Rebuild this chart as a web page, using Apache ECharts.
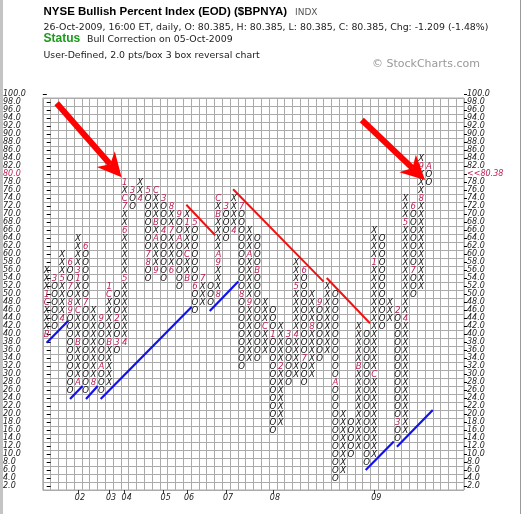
<!DOCTYPE html>
<html><head><meta charset="utf-8">
<script src="https://cdn.jsdelivr.net/npm/echarts@6/dist/echarts.min.js"></script>
<style>html,body{margin:0;padding:0;background:#fff}#c{width:526px;height:514px}</style>
</head><body><div id="c"></div>
<script>
// ---- chart data ----
const NCOLS = 54;          // columns on the grid
const BOX = 2;             // 2.0 pts per box
const colType = ['X','O','X','O','X','O','X','O','X','O','X','O','X','O','X','O','X','O','X','O','X','O','X','O','X','O','X','O','X','O','X','O','X','O','X','O','X','O','X','O','X','O','X','O','X','O','X','O','X','O'];
const colLow  = [40,42,44,26,28,26,28,26,28,36,38,72,74,54,56,54,56,52,54,46,48,48,50,64,66,32,34,34,36,16,18,28,30,28,30,34,36,4,6,10,12,8,10,42,44,14,16,50,52,78];
const colHigh = [56,54,60,58,64,62,46,44,52,50,78,76,78,76,76,74,72,70,70,68,54,52,74,72,74,72,66,64,48,46,42,40,58,56,50,48,52,50,20,18,42,40,66,64,48,46,74,72,84,82];
// month markers: [column, value, char]
const monthMarks = [
 [0,40,'B'],[0,48,'C'],[0,50,'1'],[1,54,'3'],[2,44,'4'],[2,54,'5'],
 [3,58,'6'],[3,52,'7'],[3,48,'8'],[3,46,'9'],
 [4,28,'A'],[4,38,'B'],[4,46,'C'],[4,54,'1'],[4,56,'3'],
 [5,62,'6'],[5,48,'7'],[6,28,'8'],[7,44,'9'],[7,32,'A'],
 [8,38,'B'],[8,50,'C'],[8,52,'1'],[9,44,'2'],[9,38,'3'],
 [10,38,'4'],[10,54,'5'],[10,66,'6'],[10,72,'7'],[10,74,'C'],[10,78,'1'],
 [11,76,'3'],[12,74,'4'],[13,76,'5'],[13,60,'7'],[13,58,'8'],
 [14,56,'9'],[14,64,'A'],[14,68,'B'],[14,76,'C'],[15,74,'3'],[15,66,'4'],
 [16,56,'6'],[16,66,'7'],[16,72,'8'],[17,70,'9'],[17,64,'A'],
 [18,54,'B'],[18,60,'C'],[18,68,'1'],[19,68,'5'],[19,52,'6'],[20,54,'7'],
 [22,50,'8'],[22,58,'9'],[22,60,'A'],[22,70,'B'],[22,74,'C'],
 [23,72,'3'],[24,66,'4'],[25,72,'7'],[25,50,'8'],[26,48,'9'],[26,60,'A'],
 [27,56,'B'],[28,42,'C'],[29,40,'1'],[30,32,'2'],[31,40,'3'],
 [32,40,'4'],[32,52,'5'],[33,56,'6'],[33,34,'7'],[34,42,'8'],[35,48,'9'],
 [37,28,'A'],[40,32,'B'],[42,30,'C'],[42,58,'1'],[45,46,'2'],[45,18,'3'],
 [46,44,'4'],[46,68,'5'],[47,72,'6'],[47,56,'7'],[48,74,'8'],[48,82,'9'],[49,82,'A']
];
const yearCols   = [4,8,10,15,18,23,29,42];
const yearLabels = ['02','03','04','05','06','07','08','09'];
const yTickLabels = ['2.0','4.0','6.0','8.0','10.0','12.0','14.0','16.0','18.0','20.0','22.0','24.0','26.0','28.0','30.0','32.0','34.0','36.0','38.0','40.0','42.0','44.0','46.0','48.0','50.0','52.0','54.0','56.0','58.0','60.0','62.0','64.0','66.0','68.0','70.0','72.0','74.0','76.0','78.0','80.0','82.0','84.0','86.0','88.0','90.0','92.0','94.0','96.0','98.0','100.0'];
const lastLabelRow = '80.0';
const lastValue = '80.38';
// trend lines: [col1, val1, col2, val2]
const redLines  = [[17.9,72.3,21.6,64.7],[23.9,76.2,35.5,53.1],[35.9,54.0,41.45,42.7]];
const blueLines = [[0.0,37.8,2.77,43.3],[2.99,23.75,4.6,27.0],[5.04,23.75,6.54,27.0],[6.92,23.75,18.6,46.8],[20.9,45.75,24.56,53.1],[40.9,6.0,44.5,13.1],[44.9,11.8,49.5,21.0]];
// arrows: [startCol, startVal, tipCol, tipVal]
const arrows = [[1.28,97.7,9.6,79.2],[40.4,93.5,48.5,78.5]];

// ---- derived ----
const cells = [];
for (let c = 0; c < colType.length; c++) {
  for (let v = colLow[c]; v <= colHigh[c]; v += BOX) {
    const m = monthMarks.find(mm => mm[0] === c && mm[1] === v);
    cells.push({c: c, v: v, ch: m ? m[2] : colType[c], mark: !!m});
  }
}
const xCats = [];
for (let i = 0; i < NCOLS; i++) {
  const k = yearCols.indexOf(i);
  xCats.push(k >= 0 ? yearLabels[k] : '');
}
const mainRows = yTickLabels.slice(0, -1);
const topRow = yTickLabels.slice(-1);

const MARK = '#bb2255', INK = '#111', GRID = '#ababab', LAB = '#222';
const CELLFONT = '"DejaVu Sans Condensed","DejaVu Sans",sans-serif';
const labFont = {fontFamily: '"DejaVu Sans",sans-serif', fontStyle: 'italic', fontSize: 8};

const chart = echarts.init(document.getElementById('c'));
const G = {left: 42.8, right: 62};
chart.setOption({
  animation: false,
  grid: [
    {left: G.left, right: G.right, top: 98, bottom: 24, show: true, borderColor: GRID, borderWidth: 1},
    {left: G.left, right: G.right, top: 90, height: 8, show: false}
  ],
  xAxis: [
    {type: 'category', gridIndex: 0, data: xCats, boundaryGap: true,
     axisLine: {show: false},
     axisTick: {show: true, alignWithLabel: true, length: 4, interval: (i) => yearCols.indexOf(i) >= 0, lineStyle: {color: '#333'}},
     axisLabel: Object.assign({interval: 0, margin: 4, color: LAB, padding: [0,0,0,4]}, labFont),
     splitLine: {show: true, interval: 0, lineStyle: {color: GRID, width: 1}}},
    {type: 'value', gridIndex: 0, min: -0.5, max: NCOLS - 0.5, show: false},
    {type: 'value', gridIndex: 1, min: 0, max: 1, show: false}
  ],
  yAxis: [
    {type: 'category', gridIndex: 0, position: 'left', data: mainRows, boundaryGap: true,
     axisLine: {show: false},
     axisTick: {show: true, inside: true, alignWithLabel: true, length: 4, interval: 0, lineStyle: {color: '#000'}},
     axisLabel: Object.assign({interval: 0, align: 'left', margin: 39.8, color: (v) => v === lastLabelRow ? MARK : LAB}, labFont),
     splitLine: {show: true, interval: 0, lineStyle: {color: GRID, width: 1}}},
    {type: 'category', gridIndex: 0, position: 'right', data: mainRows, boundaryGap: true,
     axisLine: {show: false},
     axisTick: {show: true, inside: false, alignWithLabel: true, length: 3, interval: 0, lineStyle: {color: '#000'}},
     axisLabel: Object.assign({interval: 0, margin: 3, formatter: (v) => v === lastLabelRow ? '<<' + lastValue : v,
       color: (v) => v === lastLabelRow ? MARK : LAB}, labFont),
     splitLine: {show: false}},
    {type: 'value', gridIndex: 0, min: 1, max: 99, show: false},
    {type: 'category', gridIndex: 1, position: 'left', data: topRow, boundaryGap: true,
     axisLine: {show: false},
     axisTick: {show: true, inside: true, alignWithLabel: true, length: 4, lineStyle: {color: '#000'}},
     axisLabel: Object.assign({interval: 0, align: 'left', margin: 39.8, color: LAB}, labFont),
     splitLine: {show: false}},
    {type: 'category', gridIndex: 1, position: 'right', data: topRow, boundaryGap: true,
     axisLine: {show: false},
     axisTick: {show: true, alignWithLabel: true, length: 3, lineStyle: {color: '#000'}},
     axisLabel: Object.assign({interval: 0, margin: 3, color: LAB}, labFont),
     splitLine: {show: false}}
  ],
  graphic: [
    {type: 'rect', shape: {x: 0, y: 0, width: 3, height: 514}, style: {fill: '#c4c4c4'}, silent: true},
    {type: 'rect', shape: {x: 520, y: 0, width: 1, height: 514}, style: {fill: '#9a9a9a'}, silent: true},
    {type: 'text', x: 43.5, y: 12, style: {text: 'NYSE Bullish Percent Index (EOD) ($BPNYA)', fill: '#000', font: 'bold 11.5px "Liberation Sans",Arial,sans-serif', textVerticalAlign: 'middle', verticalAlign: 'middle'}},
    {type: 'text', x: 295, y: 12.5, style: {text: 'INDX', fill: '#555', font: '9px "DejaVu Sans",sans-serif', textVerticalAlign: 'middle', verticalAlign: 'middle'}},
    {type: 'text', x: 43.5, y: 27.5, style: {text: '26-Oct-2009, 16:00 ET, daily, O: 80.385, H: 80.385, L: 80.385, C: 80.385, Chg: -1.209 (-1.48%)', fill: '#222', font: '9.4px "DejaVu Sans",sans-serif', textVerticalAlign: 'middle', verticalAlign: 'middle'}},
    {type: 'text', x: 43.5, y: 39, style: {text: 'Status', fill: '#1a9a1a', font: 'bold 12px "Liberation Sans",Arial,sans-serif', textVerticalAlign: 'middle', verticalAlign: 'middle'}},
    {type: 'text', x: 87, y: 39.5, style: {text: 'Bull Correction on 05-Oct-2009', fill: '#222', font: '9.4px "DejaVu Sans",sans-serif', textVerticalAlign: 'middle', verticalAlign: 'middle'}},
    {type: 'text', x: 43.5, y: 56, style: {text: 'User-Defined, 2.0 pts/box 3 box reversal chart', fill: '#222', font: '9.4px "DejaVu Sans",sans-serif', textVerticalAlign: 'middle', verticalAlign: 'middle'}},
    {type: 'text', x: 372, y: 64.5, style: {text: '\u00a9 StockCharts.com', fill: '#999', font: '11px "DejaVu Sans",sans-serif', textVerticalAlign: 'middle', verticalAlign: 'middle'}}
  ],
  series: [
    {type: 'custom', name: 'boxes', xAxisIndex: 1, yAxisIndex: 2, z: 3, clip: false,
     data: cells.map(o => [o.c, o.v]),
     renderItem: function (params, api) {
       const o = cells[params.dataIndex];
       const p = api.coord([api.value(0), api.value(1)]);
       return {type: 'text', x: p[0], y: p[1] + 0.5,
         style: {text: o.ch, fill: o.mark ? MARK : INK, fontSize: 9.5, fontStyle: 'italic',
           fontFamily: CELLFONT, align: 'center', verticalAlign: 'middle', textAlign: 'center', textVerticalAlign: 'middle'}};
     }},
    {type: 'custom', name: 'red', xAxisIndex: 1, yAxisIndex: 2, z: 4, clip: false,
     data: redLines,
     renderItem: function (params, api) {
       const a = api.coord([api.value(0), api.value(1)]), b = api.coord([api.value(2), api.value(3)]);
       return {type: 'line', shape: {x1: a[0], y1: a[1], x2: b[0], y2: b[1]}, style: {stroke: '#f21010', lineWidth: 2}};
     }},
    {type: 'custom', name: 'blue', xAxisIndex: 1, yAxisIndex: 2, z: 4, clip: false,
     data: blueLines,
     renderItem: function (params, api) {
       const a = api.coord([api.value(0), api.value(1)]), b = api.coord([api.value(2), api.value(3)]);
       return {type: 'line', shape: {x1: a[0], y1: a[1], x2: b[0], y2: b[1]}, style: {stroke: '#1010f0', lineWidth: 2.2}};
     }},
    {type: 'custom', name: 'arrows', xAxisIndex: 1, yAxisIndex: 2, z: 5, clip: false,
     data: arrows,
     renderItem: function (params, api) {
       const s = api.coord([api.value(0), api.value(1)]), t = api.coord([api.value(2), api.value(3)]);
       const dx = t[0] - s[0], dy = t[1] - s[1], L = Math.hypot(dx, dy);
       const ux = dx / L, uy = dy / L, nx = -uy, ny = ux;
       const HL = 24, HW = 12;
       const bx = t[0] - ux * HL, by = t[1] - uy * HL;
       const nt = [t[0] - ux * HL * 0.72, t[1] - uy * HL * 0.72];
       return {type: 'group', children: [
         {type: 'line', shape: {x1: s[0], y1: s[1], x2: nt[0], y2: nt[1]}, style: {stroke: '#ff0000', lineWidth: 6, lineCap: 'butt'}},
         {type: 'polygon', shape: {points: [[t[0], t[1]], [bx + nx * HW, by + ny * HW], nt, [bx - nx * HW, by - ny * HW]]}, style: {fill: '#ff0000'}}
       ]};
     }}
  ]
});
</script>
</body></html>
